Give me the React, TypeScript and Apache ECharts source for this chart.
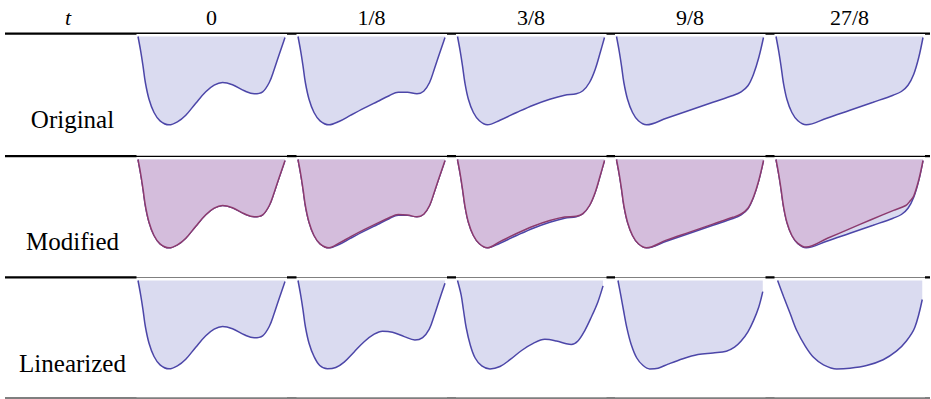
import React, { useEffect, useRef } from "react";
import * as echarts from "echarts";

// column headers (t values) and row labels
const tLabels = ["0", "1/8", "3/8", "9/8", "27/8"];
const rowLabels = ["Original", "Modified", "Linearized"];

// curves: [reaction coordinate q (0..100), potential V (0..90, 90 = top)]
const origT0 = [[0,90],[1.8,75.7],[3.4,60.7],[5,44],[7.5,27.3],[10.9,14],[15,5.7],[21.1,1.7],[26.8,4.7],[32.5,11.3],[39.3,23.3],[46.1,34.7],[51.8,41.3],[57.5,44],[64.3,41.7],[72.3,35.7],[79.1,32.7],[84.8,34.7],[89.3,44],[92.7,57.3],[96.1,72.3],[100,89]];
const origT1 = [[0,90],[1.8,75.7],[3.4,60.7],[5,44],[7.5,27.3],[10.9,14],[15,5.7],[21.1,1.7],[27.9,5],[35.9,11.3],[45,18.3],[54.1,25],[62,30.8],[68.2,34.3],[74.5,34.2],[80.9,32.7],[85.5,35.3],[89.5,44],[92.7,57.3],[96.1,72.3],[100,89]];
const origT2 = [[0,90],[1.8,75.7],[3.4,60.7],[5,44],[7.4,27.3],[10.8,14],[14.9,5.7],[20.3,1.7],[28.9,6.3],[40.2,14],[51.5,21.3],[62.8,27.3],[72.9,31.3],[80.8,32.7],[85.3,35.7],[89.8,44],[93.7,57.3],[97.1,74],[100,89]];
const origT3 = [[0,90],[1.8,75.7],[3.4,60.7],[5,44],[7.5,27.3],[10.9,14],[14.9,5.7],[20.4,1.7],[33.9,8.3],[49.8,16.3],[65.6,24.3],[79.2,31],[84.8,34.7],[89.4,40.7],[93.2,52.3],[96.8,69],[100,89]];
const origT4 = [[0,90],[1.8,75.7],[3.4,60.7],[5,44],[7.4,27.3],[10.8,14],[14.9,5.7],[20.5,1.7],[34.5,8.3],[50.3,16.3],[66.1,24.3],[79.7,31.3],[85.3,35],[89.8,41.3],[93.7,52.3],[97.1,69],[100,89]];

const modT0 = origT0;
const modT1 = [[0,90],[1.8,75.7],[3.4,60.7],[5,44],[7.5,27.3],[10.9,14],[15,5.7],[21.1,1.7],[27.9,6.3],[35.9,12.8],[45,19.8],[54.1,26.4],[62,31.8],[68.2,34.9],[74.5,34.5],[80.9,32.7],[85.5,35.3],[89.5,44],[92.7,57.3],[96.1,72.3],[100,89]];
const modT2 = [[0,90],[1.8,75.7],[3.4,60.7],[5,44],[7.4,27.3],[10.8,14],[14.9,5.7],[20.3,1.7],[28.9,7.8],[40.2,16],[51.5,23.3],[62.8,29],[72.9,32.5],[80.8,33.2],[85.3,35.9],[89.8,44],[93.7,57.3],[97.1,74],[100,89]];
const modT3 = [[0,90],[1.8,75.7],[3.4,60.7],[5,44],[7.5,27.3],[10.9,14],[14.9,5.7],[20.4,1.7],[33.9,9.4],[49.8,17.4],[65.6,25.4],[79.2,32.2],[84.8,35.5],[89.4,41.2],[93.2,52.5],[96.8,69],[100,89]];
const modT4 = [[0,90],[1.8,75.7],[3.4,60.7],[5,44],[7.4,27.3],[10.8,14],[14.9,6.2],[20.5,2.4],[35,11.2],[50,20.6],[65,30],[80,39.1],[88.3,44],[91.5,49],[93.7,53.5],[97.1,69.5],[100,89]];

const linT0 = origT0;
const linT1 = [[0,90],[1.8,75.7],[3.4,60.7],[5,44],[7.5,27.3],[10.9,14],[14.8,5],[20,1.7],[25.7,3],[31.4,8.4],[38.2,18.6],[45,28.8],[51.8,36.3],[57.5,39.3],[64.3,38.3],[72.3,33.9],[79.5,30.5],[84.8,32.9],[89.3,41.3],[92.7,55],[96.1,70.3],[100,87.2]];
const linT2 = [[0,90],[2.5,75.4],[4.1,60],[5.9,43],[8.6,26],[12,12.5],[16.5,4.6],[22.1,1.6],[28.9,4],[35.7,10.8],[43.6,20],[51.5,27.1],[59.4,31.2],[67.3,29.5],[74,26.8],[77.4,26],[81.9,29.5],[86.5,39.7],[91,53.3],[95.5,68.6],[99,84.6]];
const linT3 = [[1,90],[2.9,75.4],[4.8,60],[7,43],[10,26],[13.8,12.5],[18.1,5],[22.6,1.6],[28.3,2.3],[35.1,6.4],[45.2,11.8],[55.4,15.9],[65.6,17.6],[74.7,19.3],[80.3,23.4],[84.8,29.5],[89.4,38.7],[93.2,49.9],[96.8,63.5],[99.5,78.8]];
const linT4 = [[1.1,90],[5.2,73.7],[9.7,56.7],[14.2,39.7],[19.9,24.4],[25.5,13.2],[32.3,5.7],[41.3,1.6],[50.3,2.3],[61.6,5],[72.9,10.8],[81.9,19.3],[88.7,29.5],[94.4,43],[99.5,71]];

const originalRow = [origT0, origT1, origT2, origT3, origT4];
const modifiedRow = [modT0, modT1, modT2, modT3, modT4];
const linearizedRow = [linT0, linT1, linT2, linT3, linT4];

const BLUE_LINE = "#4c46a8";
const BLUE_FILL = "#dadbf0";
const PURPLE_LINE = "#8c3a6e";
const PURPLE_FILL = "#d4bddc";

const colLeft = [138, 298, 457.5, 616.5, 776];
const plotW = 147;
const rowTop = [36.5, 159.5, 280.5];
const plotH = 90;

export default function App() {
  const ref = useRef<HTMLDivElement>(null);
  useEffect(() => {
    if (!ref.current) return;
    const chart = echarts.init(ref.current, null, { renderer: "svg" });
    const grids: any[] = [];
    const xAxes: any[] = [];
    const yAxes: any[] = [];
    const series: any[] = [];
    const addGrid = (r: number, c: number) => {
      grids.push({ left: colLeft[c], top: rowTop[r], width: plotW, height: plotH });
      const i = grids.length - 1;
      xAxes.push({ gridIndex: i, type: "value", min: 0, max: 100, show: false });
      yAxes.push({ gridIndex: i, type: "value", min: 0, max: 90, show: false });
      return i;
    };
    const line = (idx: number, data: number[][], lc: string, fc: string, z: number) => ({
      type: "line",
      xAxisIndex: idx,
      yAxisIndex: idx,
      data,
      smooth: 0.35,
      symbol: "none",
      clip: false,
      z,
      lineStyle: { color: lc, width: 1.5 },
      areaStyle: { color: fc, opacity: 1, origin: "end" },
    });
    for (let c = 0; c < 5; c++) {
      const i0 = addGrid(0, c);
      series.push(line(i0, originalRow[c], BLUE_LINE, BLUE_FILL, 2));
      const i1 = addGrid(1, c);
      series.push(line(i1, originalRow[c], BLUE_LINE, BLUE_FILL, 2));
      series.push(line(i1, modifiedRow[c], PURPLE_LINE, PURPLE_FILL, 3));
      const i2 = addGrid(2, c);
      series.push(line(i2, linearizedRow[c], BLUE_LINE, BLUE_FILL, 2));
    }

    const graphics: any[] = [];
    const rules = [
      { y: 32.5, h: 2.3 },
      { y: 155, h: 2.3 },
      { y: 276.3, h: 2.2 },
      { y: 397.4, h: 1.1 },
    ];
    rules.forEach((r) =>
      graphics.push({ type: "rect", z: 0, shape: { x: 5, y: r.y, width: 925, height: r.h }, style: { fill: "#000" } })
    );
    const bgRows = [
      [34, 155.7],
      [157, 277],
      [277.6, 397.3],
    ];
    bgRows.forEach(([y0, y1]) =>
      colLeft.forEach((l) =>
        graphics.push({ type: "rect", z: 1, shape: { x: l - 1.5, y: y0, width: plotW + 3.5, height: y1 - y0 }, style: { fill: "#fff" } })
      )
    );
    const font = "serif";
    graphics.push({
      type: "text", z: 5, x: 68, y: 17,
      style: { text: "t", fontSize: 22, fontStyle: "italic", fontFamily: font, fill: "#000", align: "center", verticalAlign: "middle" },
    });
    tLabels.forEach((t, c) =>
      graphics.push({
        type: "text", z: 5, x: colLeft[c] + plotW / 2, y: 17,
        style: { text: t, fontSize: 22, fontFamily: font, fill: "#000", align: "center", verticalAlign: "middle" },
      })
    );
    const labelY = [119.5, 241, 363];
    rowLabels.forEach((t, r) =>
      graphics.push({
        type: "text", z: 5, x: 72.5, y: labelY[r],
        style: { text: t, fontSize: 25, fontFamily: font, fill: "#000", align: "center", verticalAlign: "middle" },
      })
    );

    chart.setOption({
      animation: false,
      backgroundColor: "#fff",
      grid: grids,
      xAxis: xAxes,
      yAxis: yAxes,
      series,
      graphic: graphics,
    });
    return () => chart.dispose();
  }, []);
  return (
    <div
      ref={ref}
      style={{ position: "fixed", left: 0, top: 0, width: 931, height: 399, background: "#fff" }}
    />
  );
}
